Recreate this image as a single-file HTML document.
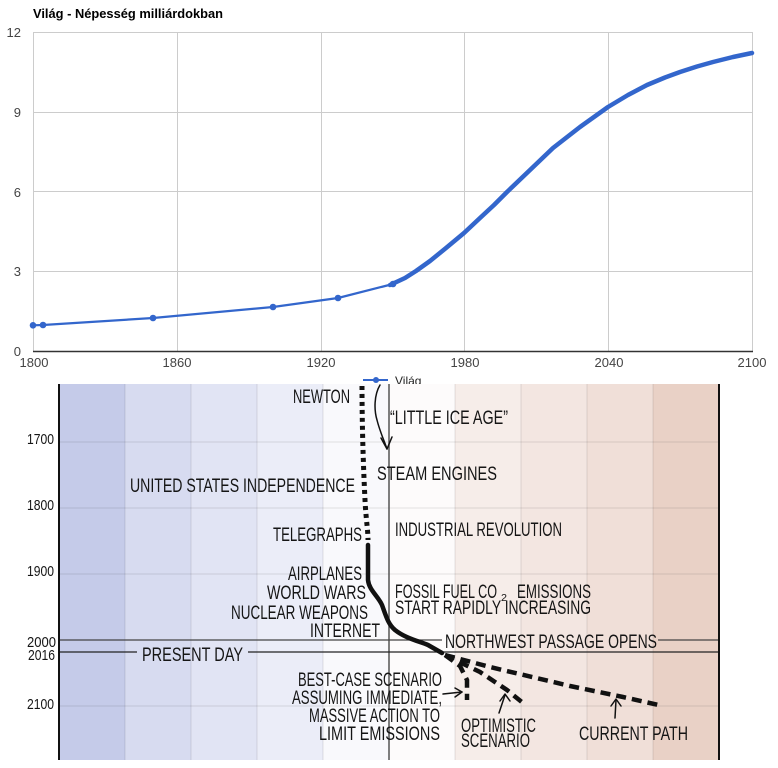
<!DOCTYPE html>
<html><head><meta charset="utf-8"><style>
html,body{margin:0;padding:0;background:#fff;}
svg{display:block;}
.g{font-family:"Liberation Sans",Arial,sans-serif;}
.x{font-family:"Liberation Sans Narrow","Liberation Sans",sans-serif;fill:#151515;font-size:19px;}
.xs{font-family:"Liberation Sans Narrow","Liberation Sans",sans-serif;fill:#151515;font-size:15px;}
</style></head><body>
<svg width="778" height="768" viewBox="0 0 778 768" xmlns="http://www.w3.org/2000/svg">
<rect width="778" height="768" fill="#fff"/>
<!-- Google chart -->
<text class="g" x="33" y="18" font-size="13" font-weight="bold" fill="#000" textLength="190" lengthAdjust="spacingAndGlyphs">Világ - Népesség milliárdokban</text>
<g stroke="#cccccc" stroke-width="1" fill="none">
<line x1="33" y1="32.5" x2="752" y2="32.5"/>
<line x1="33" y1="112.5" x2="752" y2="112.5"/>
<line x1="33" y1="191.5" x2="752" y2="191.5"/>
<line x1="33" y1="271.5" x2="752" y2="271.5"/>
<line x1="33.5" y1="32" x2="33.5" y2="351"/>
<line x1="177.5" y1="32" x2="177.5" y2="351"/>
<line x1="321.5" y1="32" x2="321.5" y2="351"/>
<line x1="464.5" y1="32" x2="464.5" y2="351"/>
<line x1="608.5" y1="32" x2="608.5" y2="351"/>
<line x1="752.5" y1="32" x2="752.5" y2="351"/>
</g>
<line x1="33" y1="351.5" x2="753" y2="351.5" stroke="#333" stroke-width="1.5"/>
<g class="g" font-size="13" fill="#444" text-anchor="end">
<text x="21" y="37">12</text>
<text x="21" y="117">9</text>
<text x="21" y="197">6</text>
<text x="21" y="276">3</text>
<text x="21" y="356">0</text>
</g>
<g class="g" font-size="13" fill="#444" text-anchor="middle">
<text x="34" y="367">1800</text>
<text x="177" y="367">1860</text>
<text x="321" y="367">1920</text>
<text x="465" y="367">1980</text>
<text x="609" y="367">2040</text>
<text x="752" y="367">2100</text>
</g>
<polyline points="33,325.3 43,325 153,318 273,307 338,298 393,284" fill="none" stroke="#3366cc" stroke-width="2.2" stroke-linejoin="round"/>
<path d="M390,285 L405,278 L416,271 L430,261 L446,248 L464,233 L480,218 L494,205 L507,192 L530,170 L553,148 L580,127 L608,107 L628,95 L647,85 L665,77.5 L680,72 L697,66.5 L713,62 L733,57 L752,53" fill="none" stroke="#3366cc" stroke-width="4.5" stroke-linejoin="round" stroke-linecap="round"/>
<g fill="#3366cc">
<circle cx="33" cy="325.3" r="3.3"/><circle cx="43" cy="325" r="3.3"/><circle cx="153" cy="318" r="3.3"/><circle cx="273" cy="307" r="3.3"/><circle cx="338" cy="298" r="3.3"/><circle cx="393" cy="284" r="3.3"/>
</g>
<!-- legend -->
<line x1="363" y1="380" x2="388" y2="380" stroke="#3366cc" stroke-width="2"/>
<circle cx="376" cy="380" r="3" fill="#3366cc"/>
<text class="g" x="395" y="385" font-size="12" fill="#222">Világ</text>

<!-- comic -->
<rect x="20" y="384" width="705" height="376" fill="#fff"/>
<rect x="59" y="384" width="66" height="376" fill="#c5cbe9"/>
<rect x="125" y="384" width="66" height="376" fill="#d7dbf0"/>
<rect x="191" y="384" width="66" height="376" fill="#e1e4f4"/>
<rect x="257" y="384" width="66" height="376" fill="#ebedf8"/>
<rect x="323" y="384" width="66" height="376" fill="#f9f9fc"/>
<rect x="389" y="384" width="66" height="376" fill="#fdfbfb"/>
<rect x="455" y="384" width="66" height="376" fill="#f6ede9"/>
<rect x="521" y="384" width="66" height="376" fill="#f3e6e1"/>
<rect x="587" y="384" width="66" height="376" fill="#f0dfd8"/>
<rect x="653" y="384" width="66" height="376" fill="#e9d1c6"/>
<g stroke="#000" stroke-opacity="0.1" stroke-width="1">
<line x1="125" y1="384" x2="125" y2="760"/><line x1="191" y1="384" x2="191" y2="760"/>
<line x1="257" y1="384" x2="257" y2="760"/><line x1="323" y1="384" x2="323" y2="760"/>
<line x1="455" y1="384" x2="455" y2="760"/><line x1="521" y1="384" x2="521" y2="760"/>
<line x1="587" y1="384" x2="587" y2="760"/><line x1="653" y1="384" x2="653" y2="760"/>
</g>
<g stroke="#000" stroke-opacity="0.07" stroke-width="1.5">
<line x1="59" y1="442" x2="719" y2="442"/><line x1="59" y1="508" x2="719" y2="508"/>
<line x1="59" y1="574" x2="719" y2="574"/><line x1="59" y1="706" x2="719" y2="706"/>
</g>
<line x1="389" y1="384" x2="389" y2="760" stroke="#555" stroke-width="1.5"/>
<g stroke="#444" stroke-width="1.2">
<line x1="59" y1="640" x2="442" y2="640"/><line x1="658" y1="640" x2="719" y2="640"/>
</g>
<g stroke="#222" stroke-width="1.3">
<line x1="59" y1="652" x2="137" y2="652"/><line x1="248" y1="652" x2="719" y2="652"/>
</g>
<line x1="59" y1="384" x2="59" y2="760" stroke="#111" stroke-width="2"/>
<line x1="719" y1="384" x2="719" y2="760" stroke="#111" stroke-width="2"/>

<!-- curve -->
<path d="M362,386 C362,420 363,460 365,500 C366,520 368,530 368,540" fill="none" stroke="#111" stroke-width="5" stroke-dasharray="4 4"/>
<path d="M368,545 L368,580 C369,590 378,596 382,605 C386,616 388,624 395,630 C405,638 418,641 428,645 L442,653" fill="none" stroke="#111" stroke-width="4.5" stroke-linecap="round" stroke-linejoin="round"/>
<g fill="none" stroke="#111" stroke-width="4.5" stroke-dasharray="10 6">
<path d="M445,655 L490,667 L570,686 L623,697 L663,706"/>
<path d="M445,655 L480,672 L507,690 L523,703"/>
<path d="M445,655 L460,666 L467,680 L467,700"/>
</g>
<!-- arrows -->
<g fill="none" stroke="#111" stroke-width="1.5" stroke-linecap="round" stroke-linejoin="round">
<path d="M380,385 C374,395 374,410 377,420 C380,432 384,440 387,449"/>
<path d="M381,438 L387,449 L392,437"/>
<path d="M443,694 L462,692"/><path d="M455,688 L462,692 L455,697"/>
<path d="M499,713 L505,695"/><path d="M500,701 L505,694 L510,701"/>
<path d="M615,718 L616,700"/><path d="M611,706 L616,699 L621,706"/>
</g>
<!-- comic labels -->
<g class="xs">
<text x="27" y="444" textLength="27" lengthAdjust="spacingAndGlyphs">1700</text>
<text x="27" y="510" textLength="27" lengthAdjust="spacingAndGlyphs">1800</text>
<text x="27" y="576" textLength="27" lengthAdjust="spacingAndGlyphs">1900</text>
<text x="27" y="647" textLength="29" lengthAdjust="spacingAndGlyphs">2000</text>
<text x="28" y="660" textLength="27" lengthAdjust="spacingAndGlyphs">2016</text>
<text x="27" y="709" textLength="27" lengthAdjust="spacingAndGlyphs">2100</text>
</g>
<g class="x">
<text x="293" y="403" textLength="57" lengthAdjust="spacingAndGlyphs">NEWTON</text>
<text x="390" y="424" textLength="118" lengthAdjust="spacingAndGlyphs">“LITTLE ICE AGE”</text>
<text x="377" y="480" textLength="120" lengthAdjust="spacingAndGlyphs">STEAM ENGINES</text>
<text x="130" y="492" textLength="225" lengthAdjust="spacingAndGlyphs">UNITED STATES INDEPENDENCE</text>
<text x="395" y="536" textLength="167" lengthAdjust="spacingAndGlyphs">INDUSTRIAL REVOLUTION</text>
<text x="273" y="541" textLength="89" lengthAdjust="spacingAndGlyphs">TELEGRAPHS</text>
<text x="288" y="580" textLength="74" lengthAdjust="spacingAndGlyphs">AIRPLANES</text>
<text x="267" y="599" textLength="99" lengthAdjust="spacingAndGlyphs">WORLD WARS</text>
<text x="231" y="619" textLength="137" lengthAdjust="spacingAndGlyphs">NUCLEAR WEAPONS</text>
<text x="310" y="637" textLength="70" lengthAdjust="spacingAndGlyphs">INTERNET</text>
<text x="395" y="598" textLength="102" lengthAdjust="spacingAndGlyphs">FOSSIL FUEL CO</text>
<text x="501" y="601" font-size="10" textLength="6" lengthAdjust="spacingAndGlyphs">2</text>
<text x="517" y="598" textLength="74" lengthAdjust="spacingAndGlyphs">EMISSIONS</text>
<text x="395" y="614" textLength="196" lengthAdjust="spacingAndGlyphs">START RAPIDLY INCREASING</text>
<text x="445" y="648" textLength="212" lengthAdjust="spacingAndGlyphs">NORTHWEST PASSAGE OPENS</text>
<text x="142" y="661" textLength="101" lengthAdjust="spacingAndGlyphs">PRESENT DAY</text>
<text x="298" y="686" textLength="144" lengthAdjust="spacingAndGlyphs">BEST-CASE SCENARIO</text>
<text x="292" y="704" textLength="150" lengthAdjust="spacingAndGlyphs">ASSUMING IMMEDIATE,</text>
<text x="309" y="722" textLength="131" lengthAdjust="spacingAndGlyphs">MASSIVE ACTION TO</text>
<text x="319" y="740" textLength="121" lengthAdjust="spacingAndGlyphs">LIMIT EMISSIONS</text>
<text x="461" y="732" textLength="75" lengthAdjust="spacingAndGlyphs">OPTIMISTIC</text>
<text x="461" y="747" textLength="69" lengthAdjust="spacingAndGlyphs">SCENARIO</text>
<text x="579" y="740" textLength="109" lengthAdjust="spacingAndGlyphs">CURRENT PATH</text>
</g>
</svg>
</body></html>
